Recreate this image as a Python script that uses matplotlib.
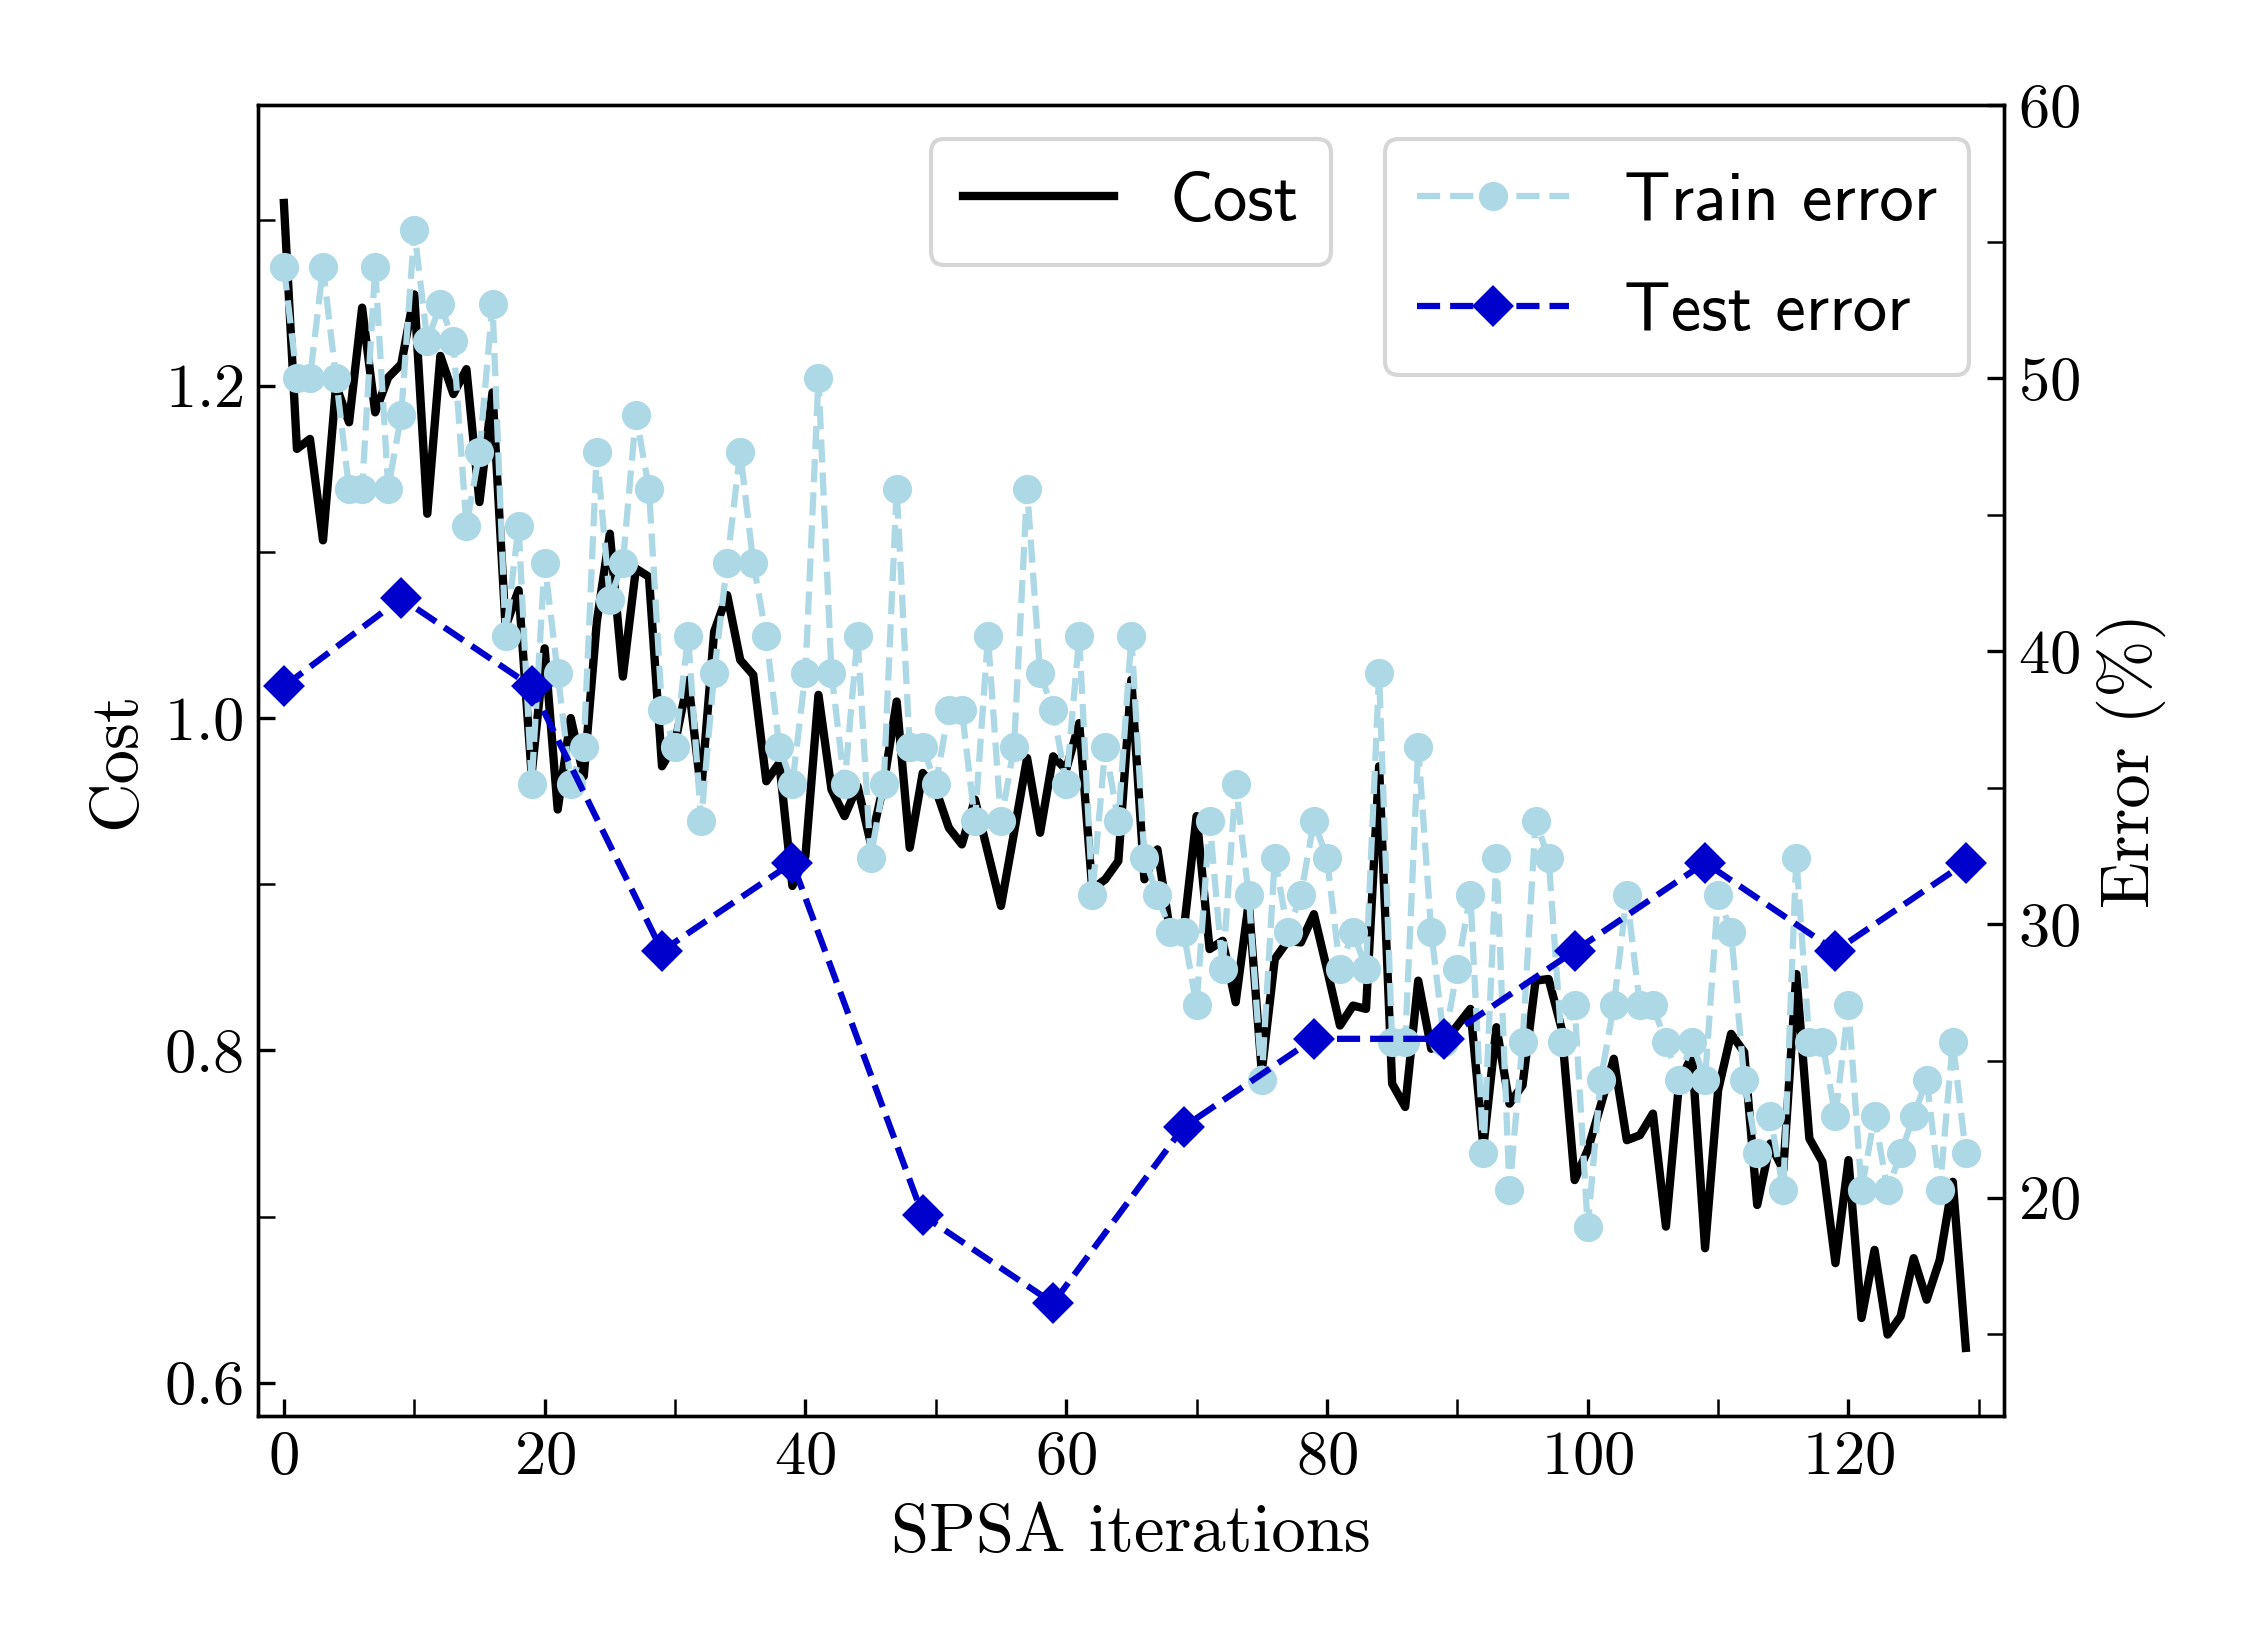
import numpy as np
import matplotlib.pyplot as plt
from matplotlib.ticker import MultipleLocator
from matplotlib.font_manager import FontProperties

plt.rcParams['font.family'] = 'serif'
plt.rcParams['font.serif'] = ['cmr10']
plt.rcParams['mathtext.fontset'] = 'cm'
plt.rcParams['axes.unicode_minus'] = False
plt.rcParams['axes.formatter.use_mathtext'] = True

# SPSA iteration index
iterations = np.arange(130)

# cost per iteration
cost = [1.310, 1.162, 1.168, 1.107, 1.200, 1.178, 1.247, 1.184, 1.205, 1.213,
        1.255, 1.123, 1.218, 1.195, 1.210, 1.130, 1.196, 1.055, 1.077, 0.966,
        1.042, 0.945, 1.000, 0.965, 1.058, 1.111, 1.025, 1.090, 1.085, 0.971,
        0.985, 1.023, 0.956, 1.052, 1.074, 1.035, 1.026, 0.962, 0.973, 0.899,
        0.917, 1.014, 0.957, 0.941, 0.959, 0.925, 0.960, 1.010, 0.922, 0.967,
        0.957, 0.934, 0.924, 0.951, 0.919, 0.887, 0.931, 0.976, 0.931, 0.977,
        0.969, 0.997, 0.897, 0.903, 0.914, 1.023, 0.903, 0.921, 0.870, 0.871,
        0.941, 0.861, 0.866, 0.829, 0.889, 0.787, 0.855, 0.866, 0.865, 0.882,
        0.849, 0.815, 0.827, 0.825, 0.971, 0.780, 0.766, 0.842, 0.801, 0.805,
        0.815, 0.825, 0.742, 0.814, 0.768, 0.779, 0.842, 0.843, 0.813, 0.722,
        0.740, 0.767, 0.795, 0.746, 0.749, 0.762, 0.694, 0.780, 0.797, 0.681,
        0.776, 0.810, 0.799, 0.707, 0.744, 0.728, 0.846, 0.747, 0.733, 0.672,
        0.734, 0.639, 0.680, 0.629, 0.640, 0.675, 0.650, 0.674, 0.721, 0.621]

# train error (%) per iteration
train_error = [54.05, 50.00, 50.00, 54.05, 50.00, 45.95, 45.95, 54.05, 45.95, 48.65,
               55.41, 51.35, 52.70, 51.35, 44.59, 47.30, 52.70, 40.54, 44.59, 35.14,
               43.24, 39.19, 35.14, 36.49, 47.30, 41.89, 43.24, 48.65, 45.95, 37.84,
               36.49, 40.54, 33.78, 39.19, 43.24, 47.30, 43.24, 40.54, 36.49, 35.14,
               39.19, 50.00, 39.19, 35.14, 40.54, 32.43, 35.14, 45.95, 36.49, 36.49,
               35.14, 37.84, 37.84, 33.78, 40.54, 33.78, 36.49, 45.95, 39.19, 37.84,
               35.14, 40.54, 31.08, 36.49, 33.78, 40.54, 32.43, 31.08, 29.73, 29.73,
               27.03, 33.78, 28.38, 35.14, 31.08, 24.32, 32.43, 29.73, 31.08, 33.78,
               32.43, 28.38, 29.73, 28.38, 39.19, 25.68, 25.68, 36.49, 29.73, 25.68,
               28.38, 31.08, 21.62, 32.43, 20.27, 25.68, 33.78, 32.43, 25.68, 27.03,
               18.92, 24.32, 27.03, 31.08, 27.03, 27.03, 25.68, 24.32, 25.68, 24.32,
               31.08, 29.73, 24.32, 21.62, 22.97, 20.27, 32.43, 25.68, 25.68, 22.97,
               27.03, 20.27, 22.97, 20.27, 21.62, 22.97, 24.32, 20.27, 25.68, 21.62]

# test error (%) evaluated every 10 iterations
test_iterations = [0, 9, 19, 29, 39, 49, 59, 69, 79, 89, 99, 109, 119, 129]
test_error = [38.71, 41.94, 38.71, 29.03, 32.26, 19.35, 16.13, 22.58, 25.81,
              25.81, 29.03, 32.26, 29.03, 32.26]

fig, ax1 = plt.subplots(figsize=(7.5, 5.5), dpi=300)
fig.subplots_adjust(left=0.1147, right=0.8905, bottom=0.1418, top=0.9364)

ax1.plot(iterations, cost, color='black', lw=2, label='Cost')
ax1.set_xlim(-1.98, 131.9)
ax1.set_ylim(0.58, 1.369)
ax1.set_xlabel('SPSA iterations', fontsize=16.5)
ax1.set_ylabel('Cost', fontsize=16.5)
ax1.xaxis.set_major_locator(MultipleLocator(20))
ax1.xaxis.set_minor_locator(MultipleLocator(10))
ax1.yaxis.set_major_locator(MultipleLocator(0.2))
ax1.yaxis.set_minor_locator(MultipleLocator(0.1))
ax1.tick_params(which='both', direction='in', length=4, labelsize=15)

ax2 = ax1.twinx()
ax2.plot(iterations, train_error, '--o', color='lightblue', lw=1.5, ms=6,
         label='Train error')
ax2.plot(test_iterations, test_error, '--D', color='mediumblue', lw=1.5, ms=6,
         label='Test error')
ax2.set_ylim(12, 60)
ax2.set_ylabel('Error (%)', fontsize=16.5)
ax2.yaxis.set_major_locator(MultipleLocator(10))
ax2.yaxis.set_minor_locator(MultipleLocator(5))
ax2.tick_params(which='both', direction='in', length=4, labelsize=15)

leg_font = FontProperties(family='cmss10', size=16.5)
ax1.legend(loc='upper center', prop=leg_font, handlelength=2.2,
           borderpad=0.47, labelspacing=0.71)
ax2.legend(loc='upper right', prop=leg_font, handlelength=2.2,
           borderpad=0.47, labelspacing=0.71)

plt.savefig('out.png')
